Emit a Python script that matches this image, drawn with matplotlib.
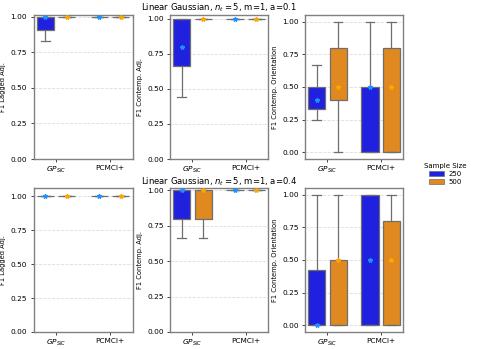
import numpy as np
import matplotlib.pyplot as plt

# Kategorien und Stichprobengrößen
methods = [r'$GP_{SIC}$', 'PCMCI+']
sample_sizes = ['250', '500']
titles = [r'Linear Gaussian, $n_t = 5$, m=1, a=0.1',
          r'Linear Gaussian, $n_t = 5$, m=1, a=0.4']
ylabels = ['F1 Lagged Adj.', 'F1 Contemp. Adj.', 'F1 Contemp. Orientation']

# Boxplot-Statistiken je [Zeile][Metrik][Methode][Stichprobengröße]
# (whislo, q1, med, q3, whishi)
row1_lagged = [[(0.83, 0.91, 1.0, 1.0, 1.0), (1.0, 1.0, 1.0, 1.0, 1.0)],
               [(1.0, 1.0, 1.0, 1.0, 1.0), (1.0, 1.0, 1.0, 1.0, 1.0)]]
row1_contemp = [[(0.44, 0.667, 0.8, 1.0, 1.0), (1.0, 1.0, 1.0, 1.0, 1.0)],
                [(1.0, 1.0, 1.0, 1.0, 1.0), (1.0, 1.0, 1.0, 1.0, 1.0)]]
row1_orient = [[(0.25, 0.333, 0.4, 0.5, 0.667), (0.0, 0.4, 0.5, 0.8, 1.0)],
               [(0.0, 0.0, 0.5, 0.5, 1.0), (0.0, 0.0, 0.5, 0.8, 1.0)]]
row2_lagged = [[(1.0, 1.0, 1.0, 1.0, 1.0), (1.0, 1.0, 1.0, 1.0, 1.0)],
               [(1.0, 1.0, 1.0, 1.0, 1.0), (1.0, 1.0, 1.0, 1.0, 1.0)]]
row2_contemp = [[(0.667, 0.8, 1.0, 1.0, 1.0), (0.667, 0.8, 1.0, 1.0, 1.0)],
                [(1.0, 1.0, 1.0, 1.0, 1.0), (1.0, 1.0, 1.0, 1.0, 1.0)]]
row2_orient = [[(0.0, 0.0, 0.0, 0.42, 1.0), (0.0, 0.0, 0.5, 0.5, 1.0)],
               [(0.0, 0.0, 0.5, 1.0, 1.0), (0.0, 0.0, 0.5, 0.8, 1.0)]]

rows = [[row1_lagged, row1_contemp, row1_orient],
        [row2_lagged, row2_contemp, row2_orient]]
ylims = [[(0, 1.012), (0, 1.028), (-0.05, 1.05)],
         [(0, 1.06), (0, 1.017), (-0.05, 1.05)]]

box_colors = ['#2020df', '#df8920']
star_colors = ['#1e90ff', '#ffa500']
line_col = '#6e6e6e'

W, H = 478, 349
fig = plt.figure(figsize=(W / 100, H / 100), dpi=100)
plt.rcParams['font.family'] = 'DejaVu Sans'

# Achsenpositionen in Pixeln (links, rechts)
xs = [(33.5, 132.5), (170, 268), (305, 403)]
ys = [(15, 159), (188, 332)]

for r in range(2):
    top, bot = ys[r]
    for c in range(3):
        x0, x1 = xs[c]
        ax = fig.add_axes([x0 / W, 1 - bot / H, (x1 - x0) / W, (bot - top) / H])
        data = rows[r][c]
        for m in range(2):
            for s in range(2):
                lo, q1, med, q3, hi = data[m][s]
                pos = m + (-0.2 if s == 0 else 0.2)
                stats = [dict(whislo=lo, q1=q1, med=med, q3=q3, whishi=hi, fliers=[])]
                ax.bxp(stats, positions=[pos], widths=0.32, patch_artist=True,
                       showfliers=False,
                       boxprops=dict(facecolor=box_colors[s], edgecolor=line_col, lw=0.9),
                       whiskerprops=dict(color=line_col, lw=0.9),
                       capprops=dict(color=line_col, lw=0.9),
                       medianprops=dict(color=line_col, lw=0.0),
                       manage_ticks=False, zorder=2)
                ax.plot(pos, med, marker='*', color=star_colors[s], ms=3.2,
                        mec=star_colors[s], zorder=4, lw=0)
        ax.set_xlim(-0.42, 1.42)
        ax.set_ylim(*ylims[r][c])
        ax.set_xticks([0, 1])
        ax.set_xticklabels(methods)
        ax.set_yticks([0, 0.25, 0.5, 0.75, 1.0])
        ax.set_yticklabels(['0.00', '0.25', '0.50', '0.75', '1.00'])
        ax.tick_params(labelsize=5.3, length=2.5, width=0.7, pad=2, color='#444444')
        ax.set_ylabel(ylabels[c], fontsize=4.9, labelpad=3)
        ax.grid(axis='y', ls='--', color='#dddddd', lw=0.6)
        ax.set_axisbelow(True)
        for sp in ax.spines.values():
            sp.set_color('#808080')
            sp.set_linewidth(1.0)

    fig.text(219 / W, 1 - (7.5 if r == 0 else 181.5) / H, titles[r],
             ha='center', va='center', fontsize=6.1)

# Legende rechts
handles = [plt.Rectangle((0, 0), 1, 1, facecolor=box_colors[i], edgecolor=line_col, lw=0.5)
           for i in range(2)]
leg = fig.legend(handles, sample_sizes, title='Sample Size', loc='center',
                 bbox_to_anchor=(445 / W, 1 - 174 / H), frameon=False,
                 fontsize=5, title_fontsize=5, handlelength=2.2, handleheight=0.8,
                 labelspacing=0.3, handletextpad=0.6)

fig.savefig('out.png', dpi=100)
